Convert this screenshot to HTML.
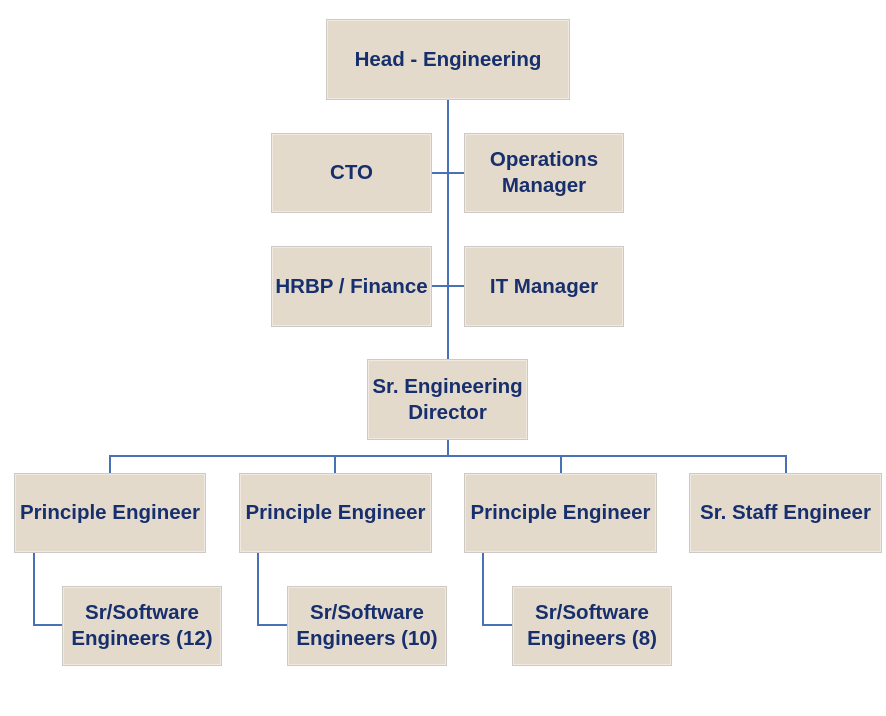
<!DOCTYPE html>
<html>
<head>
<meta charset="utf-8">
<style>
  html, body { margin:0; padding:0; background:#ffffff; }
  body { width:886px; height:716px; position:relative; overflow:hidden; font-family:"Liberation Sans", sans-serif; }
  .b {
    position:absolute; box-sizing:border-box;
    background:#e3dacc;
    border:1px solid #cdcac5;
    box-shadow: inset 0 0 0 1px #efe9df;
    display:flex; align-items:center; justify-content:center; text-align:center;
    color:#172f6c; font-weight:bold; font-size:20.5px; line-height:26px;
    white-space:nowrap;
  }
  svg { position:absolute; left:0; top:0; }
</style>
</head>
<body>
<svg width="886" height="716" viewBox="0 0 886 716">
  <g stroke="#4a70b5" stroke-width="2" fill="none">
    <line x1="448" y1="100" x2="448" y2="359"/>
    <line x1="432" y1="173" x2="464" y2="173"/>
    <line x1="432" y1="286" x2="464" y2="286"/>
    <line x1="448" y1="440" x2="448" y2="456"/>
    <line x1="109" y1="456" x2="787" y2="456"/>
    <line x1="110" y1="456" x2="110" y2="473"/>
    <line x1="335" y1="456" x2="335" y2="473"/>
    <line x1="561" y1="456" x2="561" y2="473"/>
    <line x1="786" y1="456" x2="786" y2="473"/>
    <polyline points="34,553 34,625 62,625"/>
    <polyline points="258,553 258,625 287,625"/>
    <polyline points="483,553 483,625 512,625"/>
  </g>
</svg>

<div class="b" style="left:326px;top:19px;width:244px;height:81px;">Head - Engineering</div>

<div class="b" style="left:271px;top:133px;width:161px;height:80px;">CTO</div>
<div class="b" style="left:464px;top:133px;width:160px;height:80px;">Operations<br>Manager</div>

<div class="b" style="left:271px;top:246px;width:161px;height:81px;">HRBP / Finance</div>
<div class="b" style="left:464px;top:246px;width:160px;height:81px;">IT Manager</div>

<div class="b" style="left:367px;top:359px;width:161px;height:81px;">Sr. Engineering<br>Director</div>

<div class="b" style="left:14px;top:473px;width:192px;height:80px;">Principle Engineer</div>
<div class="b" style="left:239px;top:473px;width:193px;height:80px;">Principle Engineer</div>
<div class="b" style="left:464px;top:473px;width:193px;height:80px;">Principle Engineer</div>
<div class="b" style="left:689px;top:473px;width:193px;height:80px;">Sr. Staff Engineer</div>

<div class="b" style="left:62px;top:586px;width:160px;height:80px;">Sr/Software<br>Engineers (12)</div>
<div class="b" style="left:287px;top:586px;width:160px;height:80px;">Sr/Software<br>Engineers (10)</div>
<div class="b" style="left:512px;top:586px;width:160px;height:80px;">Sr/Software<br>Engineers (8)</div>
</body>
</html>
